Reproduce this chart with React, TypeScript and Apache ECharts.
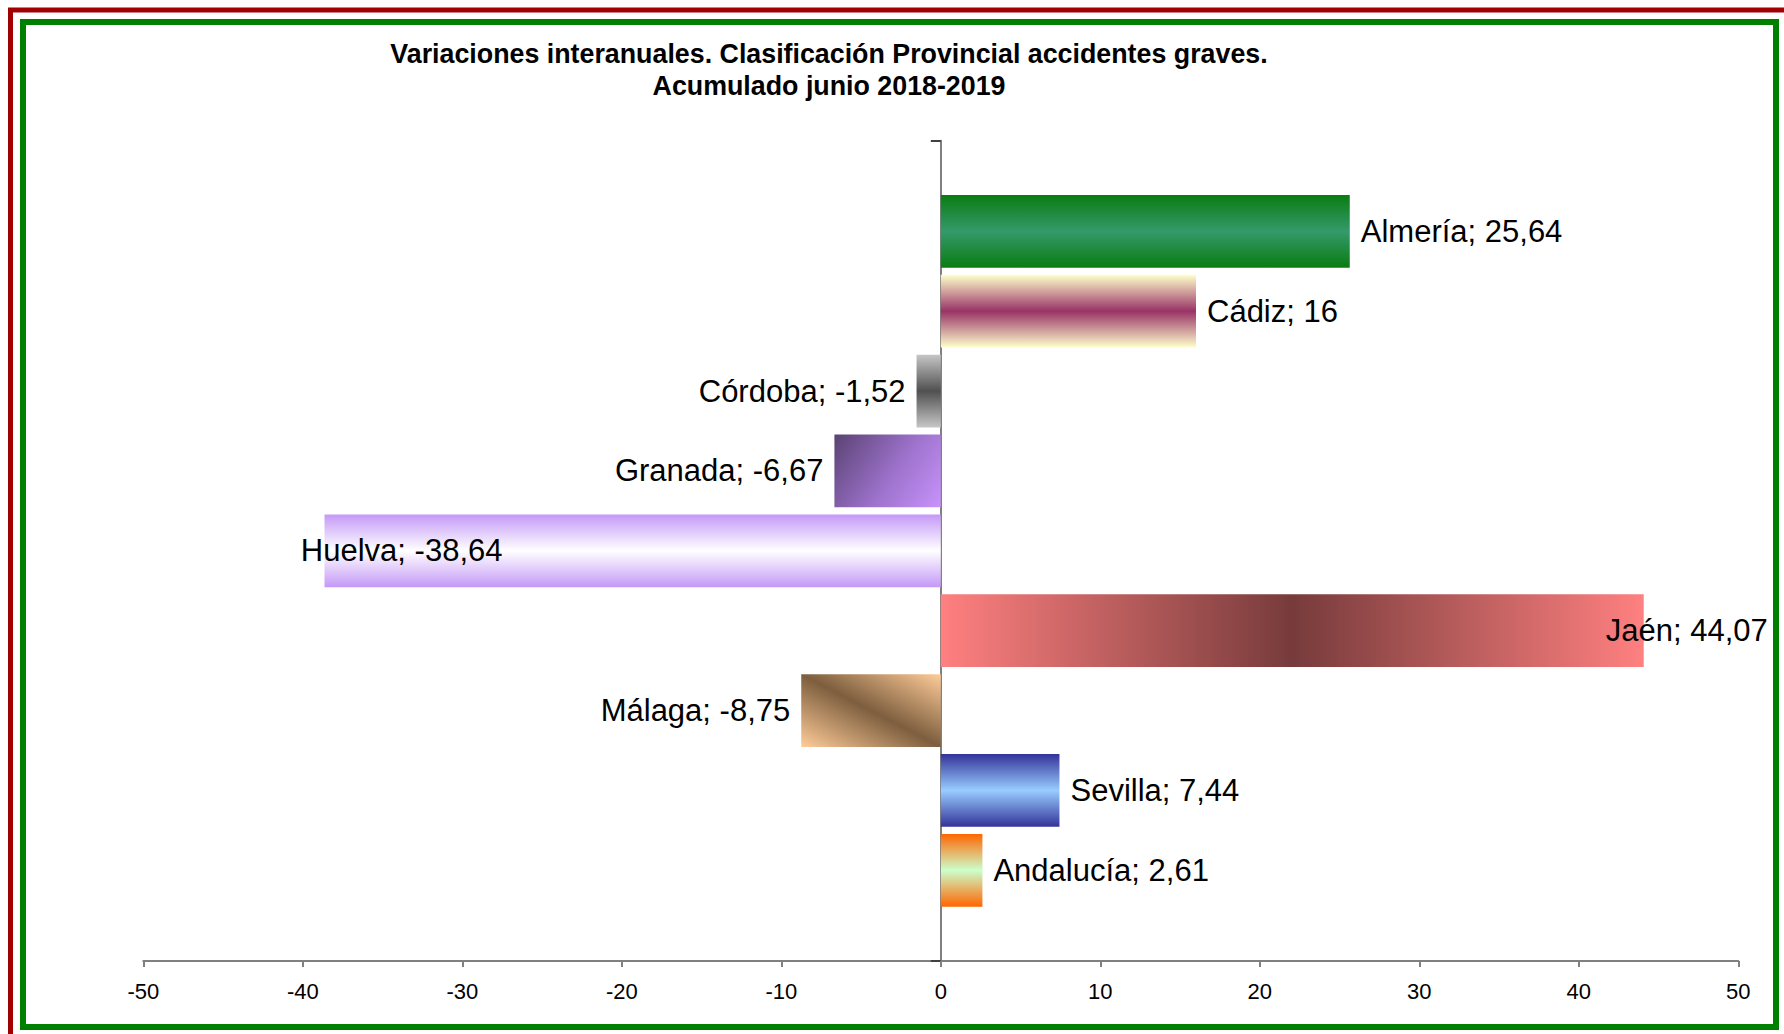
import React, { useEffect, useRef } from "react";
import * as echarts from "echarts";

const titleLines = [
  "Variaciones interanuales. Clasificación Provincial accidentes graves.",
  "Acumulado junio 2018-2019",
];
const categories = ["Almería", "Cádiz", "Córdoba", "Granada", "Huelva", "Jaén", "Málaga", "Sevilla", "Andalucía"];
const values = [25.64, 16, -1.52, -6.67, -38.64, 44.07, -8.75, 7.44, 2.61];
const xMin = -50;
const xMax = 50;
const xStep = 10;

// styles (not data)
const barFills: { dir: string; stops: [number, string][] }[] = [
  { dir: "v", stops: [[0, "#0a7c12"], [0.5, "#349a6a"], [1, "#0a7c12"]] },
  { dir: "v", stops: [[0, "#ffffcc"], [0.5, "#993366"], [1, "#ffffcc"]] },
  { dir: "v", stops: [[0, "#c6c6c6"], [0.5, "#505050"], [1, "#c6c6c6"]] },
  { dir: "corner", stops: [[0, "#5a4373"], [0.55, "#9d72cc"], [1, "#c893fb"]] },
  { dir: "v", stops: [[0, "#c499f7"], [0.5, "#ffffff"], [1, "#c499f7"]] },
  { dir: "h", stops: [[0, "#ff8080"], [0.5, "#773b3b"], [1, "#ff8080"]] },
  { dir: "diag", stops: [[0, "#ffcc99"], [0.5, "#7d5e3e"], [1, "#ffcc99"]] },
  { dir: "v", stops: [[0, "#333399"], [0.5, "#99ccff"], [1, "#333399"]] },
  { dir: "v", stops: [[0, "#ff6600"], [0.5, "#ccffcc"], [1, "#ff6600"]] },
];
const labelDx = [0, 0, 0, 0, 189, -49, 0, 0, 0];

const fmt = (v: number) => String(v).replace(".", ",");

export default function App() {
  const ref = useRef<HTMLDivElement>(null);
  useEffect(() => {
    if (!ref.current) return;
    const chart = echarts.init(ref.current, null, { renderer: "svg" });
    const yMin = -1.134;
    const yMax = categories.length - 1 + 1.135;
    const font = '"Liberation Sans", Arial, sans-serif';

    const renderItem = (params: any, api: any) => {
      const val = api.value(0);
      const idx = api.value(1);
      const p0 = api.coord([0, idx]);
      const p1 = api.coord([val, idx]);
      const h = api.size([0, 0.91])[1];
      const x = Math.min(p0[0], p1[0]);
      const w = Math.abs(p1[0] - p0[0]);
      const y = p0[1] - h / 2;
      const f = barFills[idx];
      const stops = f.stops.map(([o, c]) => ({ offset: o, color: c }));
      let grad: any;
      if (f.dir === "v") grad = new echarts.graphic.LinearGradient(0, y, 0, y + h, stops, true);
      else if (f.dir === "h") grad = new echarts.graphic.LinearGradient(x, 0, x + w, 0, stops, true);
      else if (f.dir === "corner") grad = new echarts.graphic.LinearGradient(x, y, x + w, y + h, stops, true);
      else {
        const len = Math.sqrt(w * w + h * h);
        const ext = (w * h) / len;
        const cx = x + w / 2;
        const cy = y + h / 2;
        const ux = h / len;
        const uy = -w / len;
        grad = new echarts.graphic.LinearGradient(cx - ext * ux, cy - ext * uy, cx + ext * ux, cy + ext * uy, stops, true);
      }
      const pos = val >= 0;
      const tx = (pos ? p1[0] + 11 : p1[0] - 11) + labelDx[idx];
      return {
        type: "group",
        children: [
          { type: "rect", shape: { x, y, width: w, height: h }, style: { fill: grad } },
          {
            type: "text",
            x: tx,
            y: p0[1],
            z2: 10,
            style: {
              text: `${categories[idx]}; ${fmt(val)}`,
              fill: "#000",
              font: `31px ${font}`,
              align: pos ? "left" : "right",
              verticalAlign: "middle",
            },
          },
        ],
      };
    };

    chart.setOption({
      animation: false,
      backgroundColor: "#ffffff",
      grid: { left: 143.3, right: 45.7, top: 140.7, bottom: 73, containLabel: false },
      xAxis: {
        type: "value",
        min: xMin,
        max: xMax,
        interval: xStep,
        axisLine: { onZero: false, lineStyle: { color: "#808080", width: 2 } },
        axisTick: { show: true, length: 6, lineStyle: { color: "#808080", width: 2 } },
        axisLabel: { color: "#000", fontSize: 22, fontFamily: font, margin: 19 },
        splitLine: { show: false },
      },
      yAxis: {
        type: "value",
        inverse: true,
        min: yMin,
        max: yMax,
        axisLine: { show: true, onZero: true, lineStyle: { color: "#808080", width: 2 } },
        axisTick: { show: true, length: 10, customValues: [yMin, yMax], lineStyle: { color: "#404040", width: 2 } },
        axisLabel: { show: false },
        splitLine: { show: false },
      },
      graphic: [
        { type: "rect", z: -10, shape: { x: 10.5, y: 10, width: 1800, height: 1050 }, style: { fill: "none", stroke: "#a00000", lineWidth: 5 } },
        { type: "rect", z: -10, shape: { x: 23, y: 22, width: 1753, height: 1005 }, style: { fill: "none", stroke: "#008000", lineWidth: 6 } },
        {
          type: "text",
          x: 829,
          y: 53.5,
          style: { text: titleLines[0], font: `bold 26.8px ${font}`, fill: "#000", align: "center", verticalAlign: "middle" },
        },
        {
          type: "text",
          x: 829,
          y: 85.5,
          style: { text: titleLines[1], font: `bold 26.8px ${font}`, fill: "#000", align: "center", verticalAlign: "middle" },
        },
      ],
      series: [
        {
          type: "custom",
          clip: false,
          renderItem,
          encode: { x: 0, y: 1 },
          data: values.map((v, i) => [v, i]),
        },
      ],
    });
    return () => chart.dispose();
  }, []);
  return <div ref={ref} style={{ position: "fixed", left: 0, top: 0, width: 1784, height: 1034 }} />;
}
